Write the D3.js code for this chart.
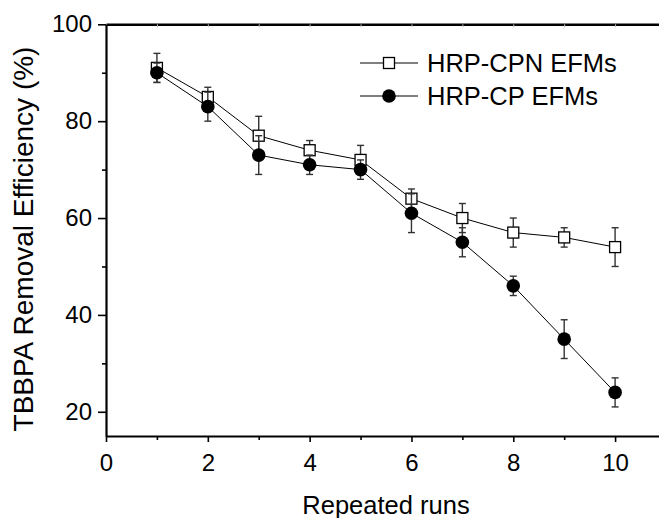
<!DOCTYPE html>
<html>
<head>
<meta charset="utf-8">
<script src="https://cdn.jsdelivr.net/npm/d3@7"></script>
<style>
  body { margin: 0; background: #fff; }
  svg text { font-family: Arial, "Liberation Sans", sans-serif; fill: #000; }
</style>
</head>
<body>
<svg id="chart" width="659" height="518"></svg>
<script>
// Removal efficiency over repeated runs, two enzyme membrane types
const runs = [1, 2, 3, 4, 5, 6, 7, 8, 9, 10];
const cpnValues = [91, 85, 77, 74, 72, 64, 60, 57, 56, 54];
const cpnErrors = [3, 2, 4, 2, 3, 2, 3, 3, 2, 4];
const cpValues = [90, 83, 73, 71, 70, 61, 55, 46, 35, 24];
const cpErrors = [2, 3, 4, 2, 2, 4, 3, 2, 4, 3];
const seriesNames = ["HRP-CPN EFMs", "HRP-CP EFMs"];
const xTicks = [0, 2, 4, 6, 8, 10];
const xMinorTicks = [1, 3, 5, 7, 9];
const yTicks = [20, 40, 60, 80, 100];
const yMinorTicks = [30, 50, 70, 90];
const xTitle = "Repeated runs";
const yTitle = "TBBPA Removal Efficiency (%)";

const svg = d3.select("#chart");
const plotLeft = 106, plotRight = 666, plotTop = 24.3, plotBottom = 436;
const tickFont = 24, titleFont = 25.5, yTitleFont = 28, legendFont = 25.5;

const x = d3.scaleLinear().domain([0, 11]).range([plotLeft, plotRight]);
const y = d3.scaleLinear().domain([15, 100]).range([plotBottom, plotTop]);

// ---- axes ----
function styleAxis(g, width) {
  g.select(".domain").attr("stroke", "#000").attr("stroke-width", width);
  g.selectAll(".tick line").attr("stroke", "#000").attr("stroke-width", 1.6);
  g.selectAll(".tick text").style("font-size", tickFont + "px").attr("fill", "#000");
}

// bottom: labelled major ticks, shorter minor ticks
const gxMinor = svg.append("g").attr("transform", `translate(0,${plotBottom})`)
  .call(d3.axisBottom(x).tickValues(xMinorTicks).tickSize(4).tickSizeOuter(0).tickFormat(""));
gxMinor.select(".domain").remove();
gxMinor.selectAll(".tick line").attr("stroke", "#000").attr("stroke-width", 1.6);

const gx = svg.append("g").attr("transform", `translate(0,${plotBottom})`)
  .call(d3.axisBottom(x).tickValues(xTicks).tickSize(6).tickSizeOuter(0).tickPadding(12).tickFormat(d3.format("d")));
styleAxis(gx, 2.2);

// top frame line with faint inward ticks
const gTop = svg.append("g").attr("transform", `translate(0,${plotTop})`)
  .call(d3.axisTop(x).tickValues(runs).tickSize(-3).tickSizeOuter(0).tickFormat(""));
gTop.select(".domain").attr("stroke", "#000").attr("stroke-width", 2.5);
gTop.selectAll(".tick line").attr("stroke", "#bbb").attr("stroke-width", 1);

// left: labelled major ticks, shorter minor ticks
const gyMinor = svg.append("g").attr("transform", `translate(${plotLeft},0)`)
  .call(d3.axisLeft(y).tickValues(yMinorTicks).tickSize(4).tickSizeOuter(0).tickFormat(""));
gyMinor.select(".domain").remove();
gyMinor.selectAll(".tick line").attr("stroke", "#000").attr("stroke-width", 1.6);

const gy = svg.append("g").attr("transform", `translate(${plotLeft},0)`)
  .call(d3.axisLeft(y).tickValues(yTicks).tickSize(8).tickSizeOuter(0).tickPadding(6).tickFormat(d3.format("d")));
styleAxis(gy, 2.2);

// axis titles
svg.append("text")
  .attr("x", (plotLeft + plotRight) / 2).attr("y", 514)
  .attr("text-anchor", "middle").style("font-size", titleFont + "px")
  .text(xTitle);

svg.append("text")
  .attr("transform", `translate(33,239) rotate(-90)`)
  .attr("text-anchor", "middle").style("font-size", yTitleFont + "px")
  .text(yTitle);

// ---- series ----
const series = [
  { name: seriesNames[0], values: cpnValues, errors: cpnErrors, shape: "square" },
  { name: seriesNames[1], values: cpValues, errors: cpErrors, shape: "circle" }
];

const line = d3.line().x(d => x(d.run)).y(d => y(d.v));
const capW = 3.5;

function drawMarker(g, shape, cx, cy) {
  if (shape === "square") {
    g.append("rect")
      .attr("x", cx - 5.5).attr("y", cy - 5.5)
      .attr("width", 11).attr("height", 11)
      .attr("fill", "#fff").attr("stroke", "#000").attr("stroke-width", 1.3);
  } else {
    g.append("circle")
      .attr("cx", cx).attr("cy", cy).attr("r", 6.8)
      .attr("fill", "#000");
  }
}

series.forEach(s => {
  const pts = runs.map((r, i) => ({ run: r, v: s.values[i], e: s.errors[i] }));
  const g = svg.append("g");

  g.append("path").datum(pts)
    .attr("d", line).attr("fill", "none")
    .attr("stroke", "#000").attr("stroke-width", 1);

  const eb = g.selectAll(".err").data(pts).join("g").attr("stroke", "#333").attr("stroke-width", 1.4);
  eb.append("line")
    .attr("x1", d => x(d.run)).attr("x2", d => x(d.run))
    .attr("y1", d => y(d.v - d.e)).attr("y2", d => y(d.v + d.e));
  eb.append("line")
    .attr("x1", d => x(d.run) - capW).attr("x2", d => x(d.run) + capW)
    .attr("y1", d => y(d.v + d.e)).attr("y2", d => y(d.v + d.e));
  eb.append("line")
    .attr("x1", d => x(d.run) - capW).attr("x2", d => x(d.run) + capW)
    .attr("y1", d => y(d.v - d.e)).attr("y2", d => y(d.v - d.e));

  pts.forEach(d => drawMarker(g, s.shape, x(d.run), y(d.v)));
});

// ---- legend ----
const legendRows = [63, 96];
series.forEach((s, i) => {
  const g = svg.append("g");
  const ly = legendRows[i];
  g.append("line").attr("x1", 360).attr("x2", 418).attr("y1", ly).attr("y2", ly)
    .attr("stroke", "#000").attr("stroke-width", 1);
  drawMarker(g, s.shape, 389, ly);
  g.append("text").attr("x", 427).attr("y", ly).attr("dy", "0.36em")
    .style("font-size", legendFont + "px").text(s.name);
});
</script>
</body>
</html>
